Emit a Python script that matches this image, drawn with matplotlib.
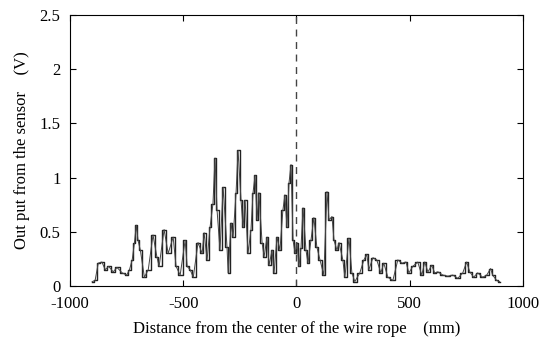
import matplotlib
matplotlib.use("Agg")
import matplotlib.pyplot as plt

distance_mm = [
    -903, -890, -876, -860, -845, -830, -810, -793, -770, -750, -738, -726, -716, -708, -700, -690,
    -672, -655, -634, -617, -607, -585, -567, -545, -532, -514, -492, -483, -470, -456,
    -435, -417, -408, -395, -382, -369, -360, -351, -338, -324, -307, -302, -289, -280,
    -267, -258, -245, -236, -227, -214, -201, -192, -183, -174, -166, -152, -143, -130,
    -121, -108, -99, -86, -73, -60, -51, -42, -33, -24, -15, -6, 2, 11, 20, 29, 42, 51, 64,
    77, 90, 104, 121, 135, 144, 157, 166, 179, 188, 205, 214, 232, 245, 258, 280, 298,
    311, 320, 338, 355, 373, 386, 404, 426, 448, 466, 484, 497, 514, 536, 554, 567,
    581, 598, 611, 625, 647, 669, 691, 713, 735, 752, 766, 783, 801, 823, 841, 858,
    867, 885, 898,
]
output_v = [
    0.04, 0.05, 0.21, 0.22, 0.15, 0.18, 0.13, 0.17, 0.12, 0.10, 0.15, 0.24, 0.40, 0.56, 0.42, 0.33,
    0.08, 0.15, 0.47, 0.27, 0.18, 0.52, 0.30, 0.45, 0.18, 0.10, 0.42, 0.18, 0.15, 0.08,
    0.40, 0.30, 0.49, 0.24, 0.54, 0.76, 1.18, 0.70, 0.33, 0.91, 0.36, 0.12, 0.58, 0.45,
    0.86, 1.25, 0.79, 0.54, 0.79, 0.30, 0.52, 0.86, 1.02, 0.61, 0.86, 0.40, 0.27, 0.45,
    0.19, 0.33, 0.12, 0.45, 0.33, 0.70, 0.84, 0.54, 0.95, 1.12, 0.42, 0.30, 0.40, 0.18, 0.35, 0.72, 0.33, 0.21, 0.42,
    0.63, 0.36, 0.24, 0.10, 0.87, 0.61, 0.64, 0.42, 0.33, 0.40, 0.24, 0.08, 0.44, 0.12, 0.04, 0.12, 0.24,
    0.29, 0.15, 0.26, 0.24, 0.12, 0.21, 0.08, 0.05, 0.24, 0.21, 0.22, 0.12, 0.18, 0.22, 0.10, 0.22,
    0.13, 0.19, 0.12, 0.13, 0.10, 0.09, 0.10, 0.07, 0.12, 0.22, 0.13, 0.08, 0.12, 0.08, 0.10, 0.16,
    0.10, 0.05, 0.04,
]

x_ticks = [-1000, -500, 0, 500, 1000]
y_ticks = [0, 0.5, 1, 1.5, 2, 2.5]
y_tick_labels = ["0", "0.5", "1", "1.5", "2", "2.5"]

plt.rcParams['font.family'] = ['Liberation Serif', 'DejaVu Serif']

fig = plt.figure(figsize=(5.4, 3.42), dpi=100)
ax = fig.add_axes([0.130, 0.164, 0.838, 0.792])

ax.plot(distance_mm, output_v, color='#222222', linewidth=1.0, drawstyle='steps-mid')
ax.plot(distance_mm, output_v, color='#444444', linewidth=0.7)
ax.axvline(0, color='#444444', linewidth=1.0, linestyle=(0, (5, 4)))

ax.set_xlim(-1000, 1000)
ax.set_ylim(0, 2.5)
ax.set_xticks(x_ticks)
ax.set_xticklabels([str(v) for v in x_ticks])
ax.set_yticks(y_ticks)
ax.set_yticklabels(y_tick_labels)
ax.tick_params(direction='in', top=True, right=True, labelsize=12, length=4, width=0.8)
ax.tick_params(axis='x', pad=7.5)
ax.tick_params(axis='y', pad=7)
for s in ax.spines.values():
    s.set_linewidth(0.8)

ax.set_xlabel("Distance from the center of the wire rope    (mm)", fontsize=12, labelpad=6)
ax.set_ylabel("Out put from the sensor    (V)", fontsize=12, labelpad=7)

fig.savefig("out.png", dpi=100)
